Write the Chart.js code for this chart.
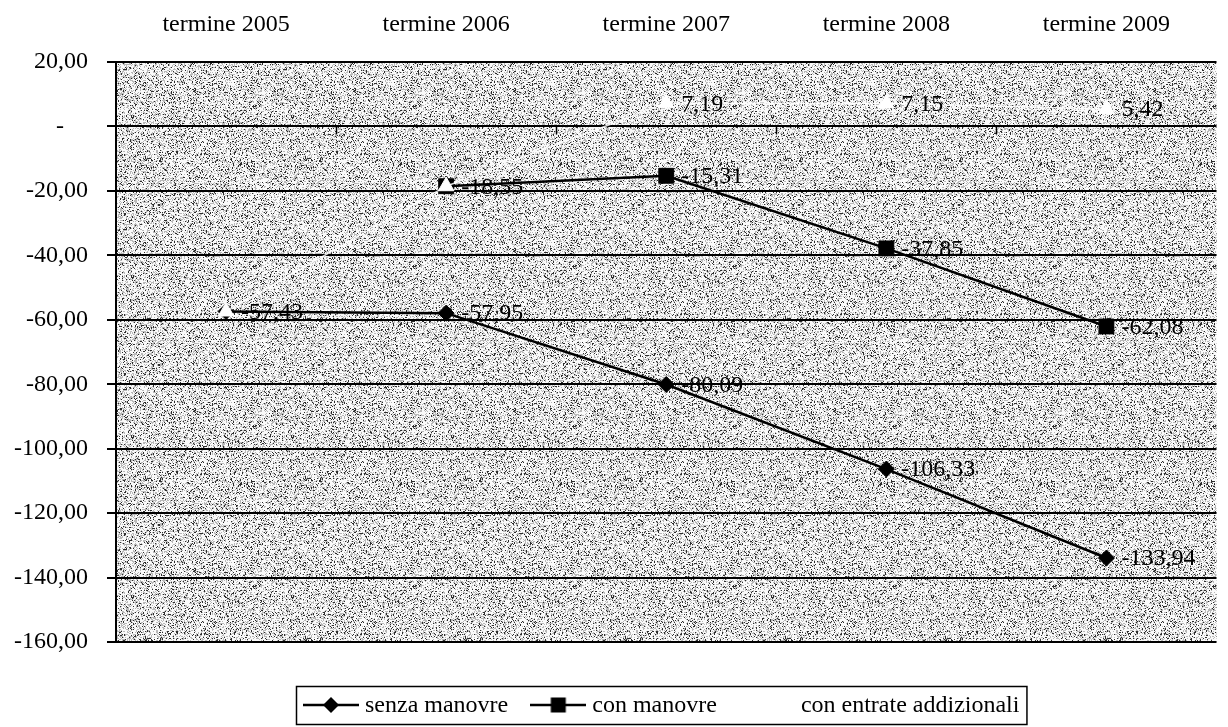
<!DOCTYPE html>
<html>
<head>
<meta charset="utf-8">
<style>
  html, body { margin: 0; padding: 0; background: #fff; overflow: hidden; }
  #wrap { width: 1228px; height: 727px; position: relative; }
</style>
<script src="https://cdn.jsdelivr.net/npm/chart.js@4.4.1/dist/chart.umd.min.js"></script>
</head>
<body>
<div id="wrap"><canvas id="c" width="1228" height="727"></canvas></div>
<script>
// Categories along the top axis
const categories = ['termine 2005', 'termine 2006', 'termine 2007', 'termine 2008', 'termine 2009'];

// Series values
const senzaManovre = [-57.43, -57.95, -80.09, -106.33, -133.94];
const conManovre = [null, -18.55, -15.31, -37.85, -62.08];
const conEntrateAddizionali = [-57.43, -18.55, 7.19, 7.15, 5.42];

// Series names
const seriesNames = ['senza manovre', 'con manovre', 'con entrate addizionali'];

// Value axis range
const yMin = -160;
const yMax = 20;
const yStep = 20;

const FONT_FAMILY = "'Liberation Serif', 'Times New Roman', serif";
const fmt = v => v.toFixed(2).replace('.', ',');

// Speckled grey fill for the plot area (deterministic hash texture)
function makeTexture() {
  const size = 160;
  const cv = document.createElement('canvas');
  cv.width = size; cv.height = size;
  const cx = cv.getContext('2d');
  const img = cx.createImageData(size, size);
  for (let y = 0; y < size; y++) {
    for (let x = 0; x < size; x++) {
      let n = Math.imul(x, 374761393) + Math.imul(y, 668265263);
      n = Math.imul(n ^ (n >>> 13), 1274126177);
      n = (n ^ (n >>> 16)) >>> 0;
      const h = (n % 1000) / 1000;
      const g = h < 0.12 ? 45 : (h < 0.42 ? 185 : 250);
      const i = (y * size + x) * 4;
      img.data[i] = g; img.data[i + 1] = g; img.data[i + 2] = g; img.data[i + 3] = 255;
    }
  }
  cx.putImageData(img, 0, 0);
  return cv;
}

// Small line+marker swatches for the legend
function makeSwatch(kind) {
  const cv = document.createElement('canvas');
  cv.width = 56; cv.height = 20;
  const cx = cv.getContext('2d');
  if (kind === 'none') return cv;
  cx.strokeStyle = '#000'; cx.lineWidth = 2.5;
  cx.beginPath(); cx.moveTo(0, 10); cx.lineTo(56, 10); cx.stroke();
  cx.fillStyle = '#000';
  if (kind === 'diamond') {
    cx.beginPath(); cx.moveTo(28, 2); cx.lineTo(36, 10); cx.lineTo(28, 18); cx.lineTo(20, 10); cx.closePath(); cx.fill();
  } else if (kind === 'square') {
    cx.fillRect(20.5, 2.5, 15, 15);
  }
  return cv;
}

const texture = makeTexture();

const plotBackground = {
  id: 'plotBackground',
  beforeDraw(chart) {
    const { ctx, chartArea: a } = chart;
    ctx.save();
    ctx.fillStyle = ctx.createPattern(texture, 'repeat');
    ctx.fillRect(a.left, a.top, a.right - a.left, a.bottom - a.top);
    ctx.restore();
  }
};

// Short tick marks on the zero line between categories
const zeroLineTicks = {
  id: 'zeroLineTicks',
  beforeDatasetsDraw(chart) {
    const { ctx, chartArea: a, scales } = chart;
    const y0 = scales.y.getPixelForValue(0);
    const n = categories.length;
    const step = (a.right - a.left) / n;
    ctx.save();
    ctx.strokeStyle = '#000';
    ctx.lineWidth = 1.5;
    for (let i = 1; i < n; i++) {
      const x = Math.round(a.left + i * step) + 0.5;
      ctx.beginPath(); ctx.moveTo(x, y0); ctx.lineTo(x, y0 + 8); ctx.stroke();
    }
    ctx.restore();
  }
};

// Value labels to the right of each point
const valueLabels = {
  id: 'valueLabels',
  afterDatasetsDraw(chart) {
    const { ctx } = chart;
    const seen = new Set();
    ctx.save();
    ctx.font = '24px ' + FONT_FAMILY;
    ctx.fillStyle = '#000';
    ctx.textAlign = 'left';
    ctx.textBaseline = 'middle';
    chart.data.datasets.forEach((ds, di) => {
      const meta = chart.getDatasetMeta(di);
      meta.data.forEach((pt, i) => {
        const v = ds.data[i];
        if (v === null || v === undefined) return;
        const key = i + ':' + v;
        if (seen.has(key)) return;
        seen.add(key);
        ctx.fillText(fmt(v), pt.x + 15, pt.y + 1);
      });
    });
    ctx.restore();
  }
};

// Boxed legend below the plot
const boxedLegend = {
  id: 'boxedLegend',
  afterDraw(chart) {
    const { ctx } = chart;
    const swatches = [makeSwatch('diamond'), makeSwatch('square'), makeSwatch('none')];
    ctx.save();
    ctx.font = '24px ' + FONT_FAMILY;
    const sw = 56, gapText = 6, gapItem = 22;
    const widths = seriesNames.map(t => ctx.measureText(t).width);
    let total = 0;
    widths.forEach((w, i) => { total += sw + gapText + w + (i < widths.length - 1 ? gapItem : 0); });
    const padX = 7;
    const boxL = 296;
    const boxT = 686, boxB = 724;
    const cy = (boxT + boxB) / 2;
    ctx.strokeStyle = '#000';
    ctx.lineWidth = 1.5;
    ctx.strokeRect(boxL + 0.5, boxT + 0.5, total + 2 * padX, boxB - boxT);
    let x = boxL + padX;
    ctx.fillStyle = '#000';
    ctx.textAlign = 'left';
    ctx.textBaseline = 'middle';
    seriesNames.forEach((t, i) => {
      ctx.drawImage(swatches[i], x, cy - 10);
      x += sw + gapText;
      ctx.fillText(t, x, cy + 1);
      x += widths[i] + gapItem;
    });
    ctx.restore();
  }
};

new Chart(document.getElementById('c'), {
  type: 'line',
  data: {
    labels: categories,
    datasets: [
      {
        label: seriesNames[0],
        data: senzaManovre,
        borderColor: '#000',
        borderWidth: 2.5,
        pointStyle: 'rectRot',
        pointRadius: 8,
        pointBackgroundColor: '#000',
        pointBorderColor: '#000',
        pointBorderWidth: 1,
        tension: 0,
        order: 2
      },
      {
        label: seriesNames[1],
        data: conManovre,
        borderColor: '#000',
        borderWidth: 2.5,
        pointStyle: 'rect',
        pointRadius: 10.5,
        pointBackgroundColor: '#000',
        pointBorderColor: '#000',
        pointBorderWidth: 1,
        tension: 0,
        spanGaps: false,
        order: 1
      },
      {
        label: seriesNames[2],
        data: conEntrateAddizionali,
        borderColor: 'rgba(255,255,255,0.85)',
        borderWidth: 1.5,
        pointStyle: 'triangle',
        pointRadius: 9,
        pointBackgroundColor: '#fff',
        pointBorderColor: '#fff',
        pointBorderWidth: 1,
        tension: 0,
        order: 0
      }
    ]
  },
  options: {
    responsive: false,
    animation: false,
    devicePixelRatio: 1,
    layout: { padding: { top: 0, right: 0, bottom: 85, left: 0 } },
    plugins: {
      legend: { display: false },
      tooltip: { enabled: false }
    },
    scales: {
      x: {
        position: 'top',
        offset: true,
        grid: { display: false },
        border: { display: false },
        ticks: {
          color: '#000',
          font: { family: FONT_FAMILY, size: 24 },
          padding: 15,
          maxRotation: 0
        },
        afterFit(s) { s.height = 62; }
      },
      y: {
        min: yMin,
        max: yMax,
        grid: { color: '#000', lineWidth: 2, tickLength: 9, drawTicks: true },
        border: { color: '#000', width: 2 },
        ticks: {
          stepSize: yStep,
          color: '#000',
          font: { family: FONT_FAMILY, size: 24 },
          padding: 19,
          callback: v => (v === 0 ? '-    ' : fmt(v))
        },
        afterFit(s) { s.width = 116; }
      }
    }
  },
  plugins: [plotBackground, zeroLineTicks, valueLabels, boxedLegend]
});
</script>
</body>
</html>
